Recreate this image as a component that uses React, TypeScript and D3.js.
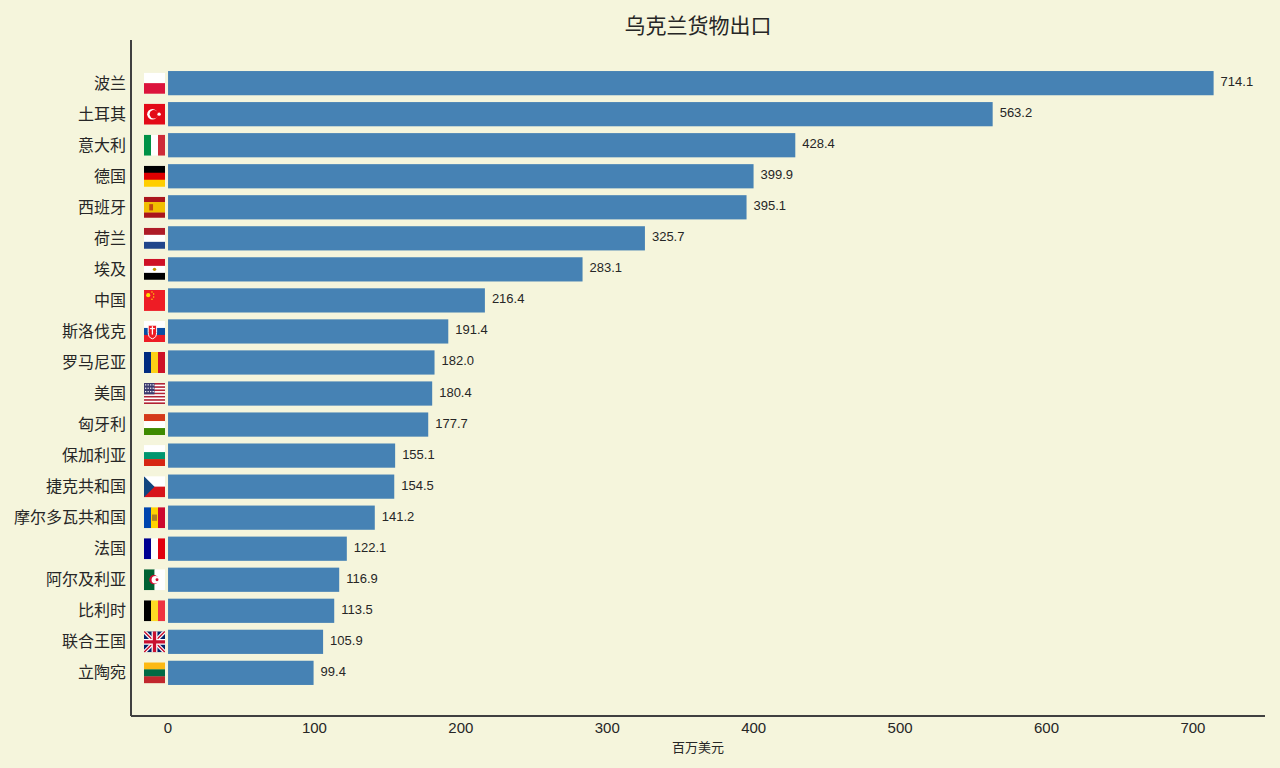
import React from "react";
import * as d3 from "d3";

const countries = [
  "波兰", "土耳其", "意大利", "德国", "西班牙", "荷兰", "埃及", "中国", "斯洛伐克", "罗马尼亚",
  "美国", "匈牙利", "保加利亚", "捷克共和国", "摩尔多瓦共和国", "法国", "阿尔及利亚", "比利时", "联合王国", "立陶宛",
];
const exportValues = [
  714.1, 563.2, 428.4, 399.9, 395.1, 325.7, 283.1, 216.4, 191.4, 182.0,
  180.4, 177.7, 155.1, 154.5, 141.2, 122.1, 116.9, 113.5, 105.9, 99.4,
];
const flagCodes = [
  "pl", "tr", "it", "de", "es", "nl", "eg", "cn", "sk", "ro",
  "us", "hu", "bg", "cz", "md", "fr", "dz", "be", "gb", "lt",
];
const xTicks = [0, 100, 200, 300, 400, 500, 600, 700];

const title = "乌克兰货物出口";
const xLabel = "百万美元";

const W = 1280;
const H = 768;
const margin = { top: 40, right: 15, bottom: 52, left: 131 };
const font = "'Liberation Sans', Arial, 'Noto Sans CJK SC', sans-serif";
const ink = "#262626";

const hStripes = (s: number, colors: string[], weights?: number[]) => {
  const w = weights ?? colors.map(() => 1);
  const total = d3.sum(w);
  let acc = 0;
  return colors.map((c, i) => {
    const y = (acc / total) * s;
    acc += w[i];
    return <rect key={i} x={0} y={y} width={s} height={(w[i] / total) * s + 0.3} fill={c} />;
  });
};
const vStripes = (s: number, colors: string[]) =>
  colors.map((c, i) => (
    <rect key={i} x={(i * s) / colors.length} y={0} width={s / colors.length + 0.3} height={s} fill={c} />
  ));

const Flag = ({ code, s }: { code: string; s: number }) => {
  switch (code) {
    case "pl":
      return <>{hStripes(s, ["#ffffff", "#dc143c"])}</>;
    case "tr":
      return (
        <>
          <rect width={s} height={s} fill="#e30a17" />
          <circle cx={s * 0.4} cy={s / 2} r={s * 0.25} fill="#fff" />
          <circle cx={s * 0.47} cy={s / 2} r={s * 0.2} fill="#e30a17" />
          <circle cx={s * 0.72} cy={s / 2} r={s * 0.08} fill="#fff" />
        </>
      );
    case "it":
      return <>{vStripes(s, ["#009246", "#ffffff", "#ce2b37"])}</>;
    case "de":
      return <>{hStripes(s, ["#000000", "#dd0000", "#ffce00"])}</>;
    case "es":
      return (
        <>
          {hStripes(s, ["#aa151b", "#f1bf00", "#aa151b"], [1, 2, 1])}
          <rect x={s * 0.25} y={s * 0.35} width={s * 0.18} height={s * 0.3} fill="#ad1519" opacity={0.7} />
        </>
      );
    case "nl":
      return <>{hStripes(s, ["#ae1c28", "#ffffff", "#21468b"])}</>;
    case "eg":
      return (
        <>
          {hStripes(s, ["#ce1126", "#ffffff", "#000000"])}
          <circle cx={s / 2} cy={s / 2} r={s * 0.08} fill="#c09300" />
        </>
      );
    case "cn":
      return (
        <>
          <rect width={s} height={s} fill="#ee1c25" />
          <circle cx={s * 0.2} cy={s * 0.25} r={s * 0.1} fill="#ffde00" />
          {[[0.38, 0.1], [0.46, 0.2], [0.46, 0.34], [0.38, 0.44]].map(([a, b], i) => (
            <circle key={i} cx={s * a} cy={s * b} r={s * 0.035} fill="#ffde00" />
          ))}
        </>
      );
    case "sk":
      return (
        <>
          {hStripes(s, ["#ffffff", "#0b4ea2", "#ee1c25"])}
          <path
            d={`M${s * 0.2},${s * 0.2} h${s * 0.4} v${s * 0.35} q0,${s * 0.25} -${s * 0.2},${s * 0.3} q-${s * 0.2},-${s * 0.05} -${s * 0.2},-${s * 0.3} z`}
            fill="#ee1c25"
            stroke="#fff"
            strokeWidth={1}
          />
          <rect x={s * 0.37} y={s * 0.25} width={s * 0.06} height={s * 0.4} fill="#fff" />
          <rect x={s * 0.28} y={s * 0.34} width={s * 0.24} height={s * 0.05} fill="#fff" />
        </>
      );
    case "ro":
      return <>{vStripes(s, ["#002b7f", "#fcd116", "#ce1126"])}</>;
    case "us":
      return (
        <>
          {hStripes(s, d3.range(13).map((i) => (i % 2 === 0 ? "#b22234" : "#ffffff")))}
          <rect width={s * 0.5} height={s * (7 / 13)} fill="#3c3b6e" />
          {d3.range(3).flatMap((r) =>
            d3.range(4).map((c) => (
              <rect key={`${r}-${c}`} x={s * (0.05 + c * 0.12)} y={s * (0.06 + r * 0.16)} width={1.2} height={1.2} fill="#fff" />
            ))
          )}
        </>
      );
    case "hu":
      return <>{hStripes(s, ["#d43a1a", "#ffffff", "#3e8a00"])}</>;
    case "bg":
      return <>{hStripes(s, ["#ffffff", "#00966e", "#d62612"])}</>;
    case "cz":
      return (
        <>
          {hStripes(s, ["#ffffff", "#d7141a"])}
          <path d={`M0,0 L${s * 0.5},${s / 2} L0,${s} z`} fill="#11457e" />
        </>
      );
    case "md":
      return (
        <>
          {vStripes(s, ["#0046ae", "#ffd200", "#cc092f"])}
          <rect x={s * 0.38} y={s * 0.35} width={s * 0.24} height={s * 0.3} fill="#9b6b2a" opacity={0.8} />
        </>
      );
    case "fr":
      return <>{vStripes(s, ["#000091", "#ffffff", "#e1000f"])}</>;
    case "dz":
      return (
        <>
          {vStripes(s, ["#006233", "#ffffff"])}
          <circle cx={s * 0.47} cy={s / 2} r={s * 0.22} fill="#d21034" />
          <circle cx={s * 0.54} cy={s / 2} r={s * 0.18} fill="#fff" />
          <circle cx={s * 0.62} cy={s / 2} r={s * 0.07} fill="#d21034" />
        </>
      );
    case "be":
      return <>{vStripes(s, ["#000000", "#fdda24", "#ef3340"])}</>;
    case "gb":
      return (
        <>
          <rect width={s} height={s} fill="#012169" />
          <path d={`M0,0 L${s},${s} M${s},0 L0,${s}`} stroke="#fff" strokeWidth={s * 0.18} />
          <path d={`M0,0 L${s},${s} M${s},0 L0,${s}`} stroke="#c8102e" strokeWidth={s * 0.07} />
          <path d={`M${s / 2},0 V${s} M0,${s / 2} H${s}`} stroke="#fff" strokeWidth={s * 0.28} />
          <path d={`M${s / 2},0 V${s} M0,${s / 2} H${s}`} stroke="#c8102e" strokeWidth={s * 0.16} />
        </>
      );
    case "lt":
      return <>{hStripes(s, ["#fdb913", "#006a44", "#c1272d"])}</>;
    default:
      return null;
  }
};

export default function App() {
  const innerW = W - margin.left - margin.right;
  const innerH = H - margin.top - margin.bottom;

  const x = d3.scaleLinear().domain([-25.3, 749.2]).range([0, innerW]);
  const y = d3.scaleBand<string>().domain(countries).range([0, innerH]).paddingInner(0.22).paddingOuter(1);

  const flagSize = 21;
  const flagX = 13;

  return (
    <svg
      width={W}
      height={H}
      style={{ position: "absolute", left: 0, top: 0, background: "#f5f5dc", fontFamily: font }}
    >
      <rect width={W} height={H} fill="#f5f5dc" />
      <text x={margin.left + innerW / 2} y={25} textAnchor="middle" dominantBaseline="central" fontSize={21} fill={ink}>
        {title}
      </text>
      <g transform={`translate(${margin.left},${margin.top})`}>
        {countries.map((c, i) => {
          const by = y(c)!;
          const bw = y.bandwidth();
          const x0 = x(0);
          const x1 = x(exportValues[i]);
          return (
            <g key={c}>
              <rect x={x0} y={by} width={x1 - x0} height={bw} fill="#4682b4" />
              <text x={x1 + 7} y={by + bw / 2 - 1.5} dominantBaseline="central" fontSize={13} fill={ink}>
                {exportValues[i].toFixed(1)}
              </text>
              <g transform={`translate(${flagX},${by + bw / 2 - flagSize / 2})`}>
                <clipPath id={`clip-${i}`}>
                  <rect width={flagSize} height={flagSize} />
                </clipPath>
                <g clipPath={`url(#clip-${i})`}>
                  <Flag code={flagCodes[i]} s={flagSize} />
                </g>
              </g>
              <text x={-5} y={by + bw / 2} textAnchor="end" dominantBaseline="central" fontSize={16} fill={ink}>
                {c}
              </text>
            </g>
          );
        })}
        <line x1={0} x2={0} y1={0} y2={innerH} stroke="#404040" strokeWidth={2} />
        <line x1={0} x2={innerW} y1={innerH} y2={innerH} stroke="#404040" strokeWidth={2} />
        {xTicks.map((t) => (
          <text key={t} x={x(t)} y={innerH + 11} textAnchor="middle" dominantBaseline="central" fontSize={15} fill={ink}>
            {t}
          </text>
        ))}
        <text x={innerW / 2} y={innerH + 31} textAnchor="middle" dominantBaseline="central" fontSize={13} fill={ink}>
          {xLabel}
        </text>
      </g>
    </svg>
  );
}
